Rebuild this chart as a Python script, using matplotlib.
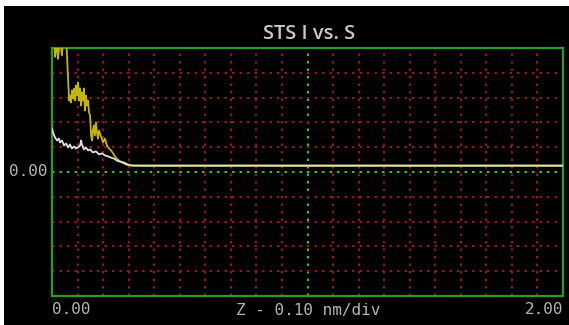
import matplotlib
matplotlib.use('Agg')
import matplotlib.pyplot as plt
from matplotlib.patches import Rectangle

# 掃描數據 (Z 位置, 單位: 格)
yellow_x = [0.000, 0.008, 0.012, 0.016, 0.020, 0.023, 0.027, 0.031, 0.039, 0.043,
            0.051, 0.055, 0.059, 0.063, 0.067, 0.070, 0.074, 0.078, 0.082, 0.086,
            0.090, 0.094, 0.098, 0.102, 0.106, 0.110, 0.114, 0.117, 0.121, 0.125,
            0.129, 0.133, 0.137, 0.141, 0.145, 0.149, 0.153, 0.157, 0.160, 0.164,
            0.168, 0.172, 0.176, 0.180, 0.184, 0.192, 0.200, 0.207, 0.215, 0.223,
            0.231, 0.239, 0.250, 0.262, 0.274, 0.290, 0.313, 0.350, 0.500, 1.000,
            1.500, 2.000]
yellow_y = [5.50, 5.50, 4.64, 4.90, 5.50, 4.56, 4.90, 5.50, 4.70, 5.50,
            5.50, 5.50, 4.64, 3.69, 2.88, 3.08, 2.80, 3.29, 2.96, 3.37,
            2.88, 3.49, 3.08, 3.61, 2.88, 3.37, 2.68, 3.21, 2.88, 3.37,
            2.48, 3.08, 2.68, 2.88, 2.40, 2.28, 1.47, 1.27, 1.67, 1.88,
            1.47, 2.00, 1.59, 1.35, 1.67, 1.43, 1.19, 1.35, 1.07, 0.95,
            0.87, 0.75, 0.58, 0.46, 0.38, 0.30, 0.26, 0.25, 0.25, 0.25,
            0.25, 0.25]

white_x = [0.000, 0.004, 0.012, 0.020, 0.027, 0.031, 0.039, 0.047, 0.055, 0.063,
           0.070, 0.078, 0.086, 0.094, 0.102, 0.110, 0.114, 0.117, 0.125, 0.133,
           0.141, 0.149, 0.160, 0.172, 0.184, 0.196, 0.207, 0.219, 0.231, 0.243,
           0.254, 0.266, 0.282, 0.297, 0.313, 0.400, 1.000, 2.000]
white_y = [1.75, 1.59, 1.39, 1.27, 1.35, 1.19, 1.27, 1.07, 1.15, 0.99,
           1.11, 0.95, 1.03, 0.95, 0.99, 1.07, 1.27, 1.11, 0.91, 0.99,
           0.87, 0.91, 0.79, 0.83, 0.71, 0.75, 0.67, 0.63, 0.58, 0.54,
           0.46, 0.42, 0.38, 0.30, 0.26, 0.26, 0.26, 0.26]

x_ticks = [i * 0.1 for i in range(21)]
y_ticks = list(range(-5, 6))

title = 'STS I vs. S'
x_label = 'Z - 0.10 nm/div'

GREEN = '#23a023'
RED = '#901626'
TEXT = '#b4b4b4'

fig = plt.figure(figsize=(5.69, 3.25), dpi=100, facecolor='white')
# 黑色面板
fig.patches.append(Rectangle((4 / 569, 0), 1, 319 / 325, transform=fig.transFigure,
                             facecolor='black', edgecolor='none', zorder=-10))

ax = fig.add_axes([52 / 569, 1 - 296 / 325, 511 / 569, 248 / 325])
ax.set_zorder(2)
ax.set_facecolor('black')
ax.set_xlim(0, 2.0)
ax.set_ylim(-5, 5)

# 網格
for xv in x_ticks[1:-1]:
    is_mid = abs(xv - 1.0) < 1e-9
    ax.axvline(xv, color='#2ec42e' if is_mid else RED, lw=1.5,
               linestyle=(0, (1.2, 2.4)), zorder=1)
for yv in y_ticks[1:-1]:
    ax.axhline(yv, color='#2ec42e' if yv == 0 else RED, lw=1.5,
               linestyle=(0, (1.2, 2.4)), zorder=1)

ax.plot(yellow_x, yellow_y, color='#c4b410', lw=1.3, zorder=3)
ax.plot(white_x, white_y, color='#e0e0e0', lw=1.3, zorder=4)

for s in ax.spines.values():
    s.set_color(GREEN)
    s.set_linewidth(1.6)
ax.set_xticks([])
ax.set_yticks([])

fig.text(309 / 569, 1 - 34 / 325, title, color='#c8c8c8', fontsize=14.5,
         ha='center', va='center', family='Open Sans', weight='semibold', zorder=3)
mono = dict(color=TEXT, fontsize=11.5, family='DejaVu Sans Mono', va='center', zorder=3)
fig.text(52 / 569, 1 - 309 / 325, '0.00', ha='left', **mono)
fig.text(563 / 569, 1 - 309 / 325, '2.00', ha='right', **mono)
fig.text(308 / 569, 1 - 310 / 325, x_label, ha='center', **mono)
fig.text(48 / 569, 1 - 171 / 325, '0.00', ha='right', **mono)

fig.savefig('out.png', dpi=100, facecolor=fig.get_facecolor())
